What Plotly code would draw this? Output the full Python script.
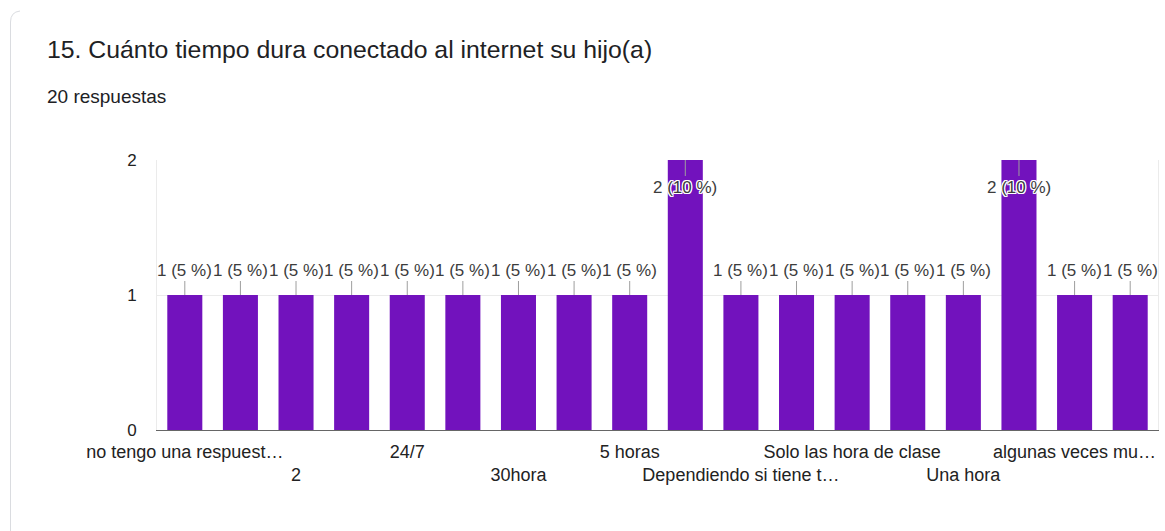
import plotly.graph_objects as go

# Respuestas a la pregunta 15 (20 respuestas en total)
tick_labels = [
    "no tengo una respuest…", "", "2", "", "24/7", "", "30hora", "", "5 horas",
    "", "Dependiendo si tiene t…", "", "Solo las hora de clase", "", "Una hora",
    "", "algunas veces mu…", "",
]
counts = [1, 1, 1, 1, 1, 1, 1, 1, 1, 2, 1, 1, 1, 1, 1, 2, 1, 1]
total_responses = 20

title = "15. Cuánto tiempo dura conectado al internet su hijo(a)"
subtitle = f"{total_responses} respuestas"

W, H = 1165, 531
L, R, T, B = 157, 7, 160, 101
BAR_COLOR = "#7212bd"
TEXT_COLOR = "#3c3c3c"
CHART_FONT = "Liberation Sans, Arial, sans-serif"

x = list(range(len(counts)))

fig = go.Figure(
    go.Bar(
        x=x,
        y=counts,
        marker=dict(color=BAR_COLOR, line=dict(width=0)),
        hoverinfo="skip",
    )
)

halo = ("1px 1px 0 #fff, -1px -1px 0 #fff, 1px -1px 0 #fff, -1px 1px 0 #fff, "
        "0 1px 0 #fff, 0 -1px 0 #fff, 1px 0 0 #fff, -1px 0 0 #fff")
ymax = max(counts)
annotations = []
for xi, v in zip(x, counts):
    pct = v / total_responses * 100
    label = f"{v} ({pct:g} %)"
    inside = v == ymax
    annotations.append(dict(
        x=xi, y=v, xref="x", yref="y",
        text=label,
        showarrow=True, arrowhead=0, arrowwidth=1, arrowcolor="#9e9e9e",
        ax=0, ay=27 if inside else -25,
        font=dict(family=CHART_FONT, size=17,
                  color=TEXT_COLOR, shadow=halo if inside else "none"),
    ))

pw, ph = W - L - R, H - T - B
def px_x(p):
    return (p - L) / pw
def px_y(p):
    return (H - B - p) / ph

# Encabezado de la tarjeta
annotations.append(dict(
    x=px_x(45), y=px_y(50),
    xref="paper", yref="paper", xanchor="left", yanchor="middle",
    text=title, showarrow=False,
    font=dict(family=CHART_FONT, size=24.8, color="#202124"),
))
annotations.append(dict(
    x=px_x(45), y=px_y(96),
    xref="paper", yref="paper", xanchor="left", yanchor="middle",
    text=subtitle, showarrow=False,
    font=dict(family=CHART_FONT, size=19, color="#202124"),
))

# Etiquetas del eje X alternadas en dos filas
tickvals, ticktext = [], []
row = 0
for xi, lab in zip(x, tick_labels):
    if lab:
        tickvals.append(xi)
        ticktext.append(lab if row % 2 == 0 else "<br>" + lab)
        row += 1

shapes = [dict(
    type="path", xref="paper", yref="paper",
    path=(f"M {px_x(10.5)},{px_y(540)} L {px_x(10.5)},{px_y(22)} "
          f"Q {px_x(10.5)},{px_y(12)} {px_x(20)},{px_y(11)}"),
    line=dict(color="#dadce0", width=1),
)]

fig.update_layout(
    width=W, height=H,
    margin=dict(l=L, r=R, t=T, b=B),
    paper_bgcolor="white", plot_bgcolor="white",
    bargap=0.37,
    showlegend=False,
    annotations=annotations,
    shapes=shapes,
    font=dict(family=CHART_FONT, size=17, color="#222"),
    xaxis=dict(
        range=[-0.5, len(counts) - 0.5],
        tickvals=tickvals, ticktext=ticktext, tickangle=0,
        showgrid=False, zeroline=False,
        showline=True, linecolor="#666", linewidth=1,
        ticks="", ticklabelstandoff=5,
        tickfont=dict(family=CHART_FONT, size=18, color="#222"),
        fixedrange=True,
    ),
    yaxis=dict(
        range=[0, 2], tickvals=[0, 1, 2],
        showgrid=True, gridcolor="#ebebeb", gridwidth=1,
        zeroline=False,
        showline=True, linecolor="#ebebeb", mirror=True,
        ticks="", ticklabelstandoff=16,
        tickfont=dict(family=CHART_FONT, size=17, color="#222"),
        fixedrange=True,
    ),
)

fig.write_html("out.html", config={"displayModeBar": False})
